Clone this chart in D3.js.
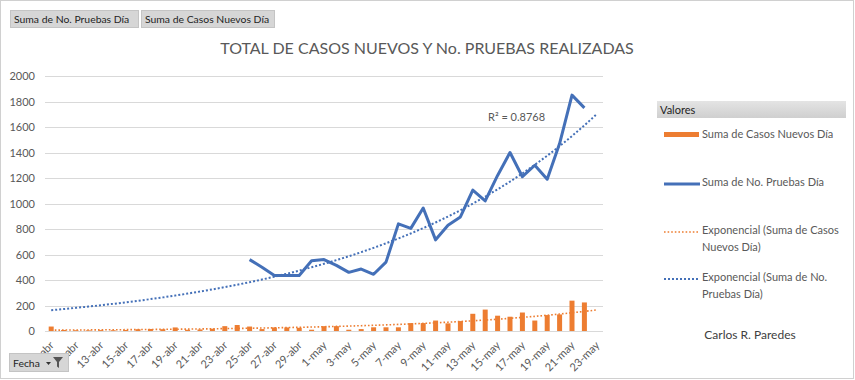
<!DOCTYPE html>
<html><head><meta charset="utf-8">
<script src="https://cdn.jsdelivr.net/npm/d3@7"></script>
<style>
html,body{margin:0;padding:0;background:#fff;}
svg{display:block;font-family:Lato,"Open Sans",sans-serif;}
</style></head>
<body>
<svg id="c" width="855" height="380"></svg>
<script>
const dates = ["9-abr","10-abr","11-abr","12-abr","13-abr","14-abr","15-abr","16-abr","17-abr","18-abr",
"19-abr","20-abr","21-abr","22-abr","23-abr","24-abr","25-abr","26-abr","27-abr","28-abr","29-abr","30-abr",
"1-may","2-may","3-may","4-may","5-may","6-may","7-may","8-may","9-may","10-may","11-may","12-may","13-may",
"14-may","15-may","16-may","17-may","18-may","19-may","20-may","21-may","22-may","23-may"];
const casosNuevos = [35,8,6,5,7,6,8,14,16,14,28,10,12,18,38,47,35,15,28,28,25,10,
38,38,10,15,29,29,29,62,62,82,60,78,135,168,120,112,145,82,125,130,238,224,null];
const pruebas = [null,null,null,null,null,null,null,null,null,null,null,null,null,null,null,null,
560,500,435,435,435,551,560,515,460,486,445,540,840,805,965,715,830,895,1105,1020,1220,1400,1210,1300,1190,1470,1850,1750,null];
const yTicks = [0,200,400,600,800,1000,1200,1400,1600,1800,2000];
const seriesNames = ["Suma de Casos Nuevos Día","Suma de No. Pruebas Día"];
const trendNames = [["Exponencial (Suma de Casos","Nuevos Día)"],["Exponencial (Suma de No.","Pruebas Día)"]];
const rSquaredLabel = "R² = 0.8768";
const titleText = "TOTAL DE CASOS NUEVOS Y No. PRUEBAS REALIZADAS";

const orange = "#ED7D31", blue = "#4470B8", txt = "#595959", grid = "#d9d9d9";
const svg = d3.select("#c");

svg.append("rect").attr("x",0.5).attr("y",0.5).attr("width",853).attr("height",378)
  .attr("fill","#fff").attr("stroke","#d0d0d0");

const x = d3.scalePoint().domain(dates).range([45,603]).padding(0.5);
const y = d3.scaleLinear().domain([0,2000]).range([331,76]);

function button(x0,y0,w,h,label){
  const g = svg.append("g");
  g.append("rect").attr("x",x0).attr("y",y0).attr("width",w).attr("height",h)
    .attr("fill","#d6d6d6").attr("stroke","#c4c4c4");
  g.append("text").attr("x",x0+3.5).attr("y",y0+h/2+4).attr("font-size",10.4)
    .attr("fill","#1e1e1e").text(label);
  return g;
}
button(10.5,10.5,128,17,seriesNames[1]);
button(141.5,10.5,133,17,seriesNames[0]);
const fb = button(9.5,353.5,59,18,"Fecha");
fb.append("path").attr("d","M46,362 l5,0 l-2.5,3 z").attr("fill","#333");
fb.append("path").attr("d","M53,357 l10,0 l-4,5 l0,6 l-2,-1.5 l0,-4.5 z").attr("fill","#555");

svg.append("text").attr("x",427).attr("y",54).attr("text-anchor","middle")
  .attr("font-size",16).attr("fill",txt).text(titleText);

svg.append("g").selectAll("line").data(yTicks).join("line")
  .attr("x1",45).attr("x2",603).attr("y1",d=>Math.round(y(d))+0.5).attr("y2",d=>Math.round(y(d))+0.5)
  .attr("stroke",grid).attr("stroke-width",1);

const yAxis = svg.append("g").attr("transform","translate(45,0)")
  .call(d3.axisLeft(y).tickValues(yTicks).tickSize(0).tickPadding(10).tickFormat(d3.format("d")));
yAxis.select(".domain").remove();
yAxis.selectAll("text").attr("font-size",11).attr("fill",txt).attr("font-family","Lato,'Open Sans',sans-serif");

const xAxis = svg.append("g").attr("transform","translate(0,331)")
  .call(d3.axisBottom(x).tickValues(dates.filter((d,i)=>i%2===0)).tickSize(0).tickPadding(0));
xAxis.select(".domain").remove();
xAxis.selectAll("text").attr("font-size",11).attr("fill",txt).attr("font-family","Lato,'Open Sans',sans-serif")
  .attr("text-anchor","end").attr("dy",0).attr("transform","translate(3,15) rotate(-45)");

svg.append("g").selectAll("rect").data(dates.map((d,i)=>({d,v:casosNuevos[i]})).filter(o=>o.v!=null))
  .join("rect").attr("x",o=>x(o.d)-2.5).attr("width",5)
  .attr("y",o=>y(o.v)).attr("height",o=>y(0)-y(o.v)).attr("fill",orange);

function expFit(vals){
  const pts = vals.map((v,i)=>({x:i+1,v})).filter(p=>p.v!=null&&p.v>0);
  const n=pts.length; let sx=0,sy=0,sxx=0,sxy=0;
  pts.forEach(p=>{const ly=Math.log(p.v);sx+=p.x;sy+=ly;sxx+=p.x*p.x;sxy+=p.x*ly;});
  const b=(n*sxy-sx*sy)/(n*sxx-sx*sx); const a=Math.exp((sy-b*sx)/n);
  return i=>a*Math.exp(b*(i+1));
}
const fC = expFit(casosNuevos), fP = expFit(pruebas);
const trendLine = f => d3.line().x(d=>x(d)).y((d,i)=>y(f(i)))(dates);
svg.append("path").attr("d",trendLine(fC)).attr("fill","none").attr("stroke",orange)
  .attr("stroke-width",1.6).attr("stroke-dasharray","1.6,2");
svg.append("path").attr("d",trendLine(fP)).attr("fill","none").attr("stroke",blue)
  .attr("stroke-width",2).attr("stroke-dasharray","2,2");

svg.append("path").datum(dates.map((d,i)=>({d,v:pruebas[i]})))
  .attr("d",d3.line().defined(o=>o.v!=null).x(o=>x(o.d)).y(o=>y(o.v)))
  .attr("fill","none").attr("stroke",blue).attr("stroke-width",3).attr("stroke-linejoin","round");

svg.append("text").attr("x",488).attr("y",121).attr("font-size",11).attr("fill",txt).text(rSquaredLabel);

svg.node().appendChild(fb.node());

const defs = svg.append("defs");
const gr = defs.append("linearGradient").attr("id","hg").attr("x1",0).attr("y1",0).attr("x2",0).attr("y2",1);
gr.append("stop").attr("offset","0").attr("stop-color","#e4e4e4");
gr.append("stop").attr("offset","1").attr("stop-color","#cfcfcf");
svg.append("rect").attr("x",657).attr("y",101).attr("width",189).attr("height",17).attr("fill","url(#hg)");
svg.append("text").attr("x",660).attr("y",114).attr("font-size",11).attr("fill","#1e1e1e").text("Valores");

const lg = svg.append("g").attr("font-size",11).attr("fill",txt);
lg.append("rect").attr("x",664).attr("y",132).attr("width",35).attr("height",5).attr("fill",orange);
lg.append("text").attr("x",702).attr("y",138).text(seriesNames[0]);
lg.append("line").attr("x1",664).attr("x2",700).attr("y1",184).attr("y2",184).attr("stroke",blue).attr("stroke-width",3);
lg.append("text").attr("x",702).attr("y",186).text(seriesNames[1]);
lg.append("line").attr("x1",664).attr("x2",700).attr("y1",232).attr("y2",232).attr("stroke",orange)
  .attr("stroke-width",1.6).attr("stroke-dasharray","1.6,2");
lg.append("text").attr("x",702).attr("y",234).text(trendNames[0][0]);
lg.append("text").attr("x",702).attr("y",251).text(trendNames[0][1]);
lg.append("line").attr("x1",664).attr("x2",700).attr("y1",279).attr("y2",279).attr("stroke",blue)
  .attr("stroke-width",2).attr("stroke-dasharray","2,2");
lg.append("text").attr("x",702).attr("y",281).text(trendNames[1][0]);
lg.append("text").attr("x",702).attr("y",298).text(trendNames[1][1]);

svg.append("text").attr("x",750).attr("y",339).attr("text-anchor","middle").attr("font-size",12)
  .attr("fill","#404040").text("Carlos R. Paredes");
</script>
</body></html>
